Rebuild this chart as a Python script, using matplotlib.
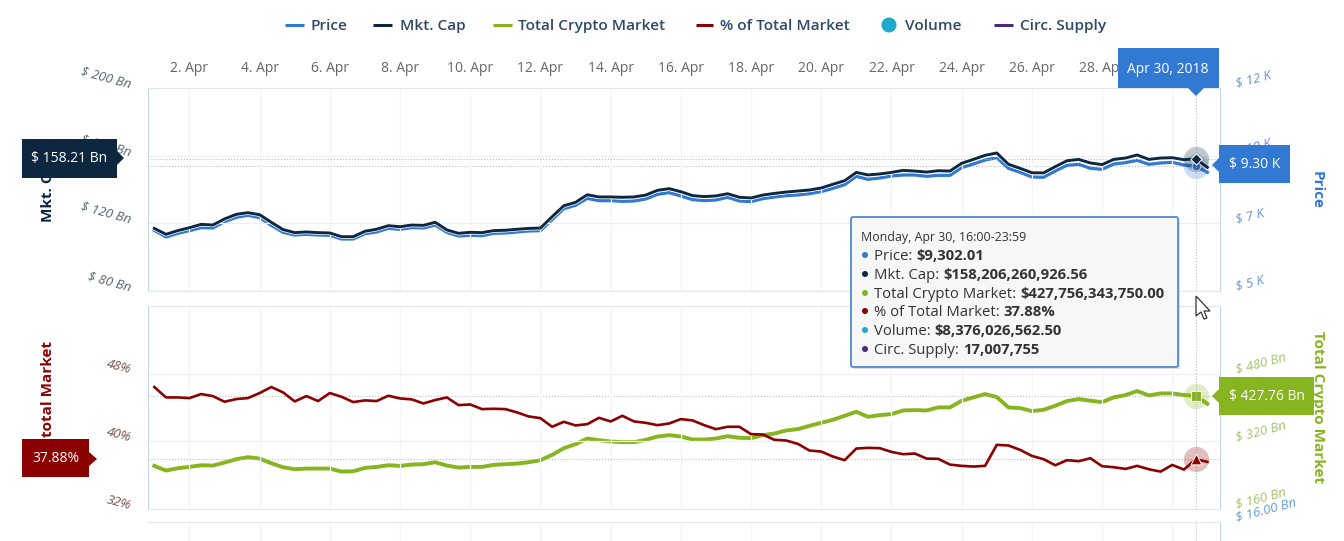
import numpy as np
import matplotlib
matplotlib.use("Agg")
import matplotlib.pyplot as plt
import matplotlib.patheffects as pe
from matplotlib.patches import Polygon, Rectangle, Circle, FancyBboxPatch

plt.rcParams['font.family'] = ['Open Sans', 'DejaVu Sans']

W, H = 1344, 541

# 8 hourly values, 1 Apr 00:00 onward
price = [7092, 6862, 6988, 7080, 7184, 7172, 7391, 7540, 7609, 7529, 7264, 7023, 6931, 6954, 6931, 6919,
         6793, 6793, 6977, 7034, 7161, 7126, 7184, 7172, 7276, 7023, 6897, 6919, 6908, 6988, 7000, 7034,
         7069, 7080, 7460, 7839, 7954, 8195, 8115, 8115, 8092, 8103, 8172, 8333, 8391, 8276, 8149, 8115,
         8138, 8230, 8103, 8080, 8184, 8241, 8287, 8310, 8356, 8425, 8540, 8667, 8954, 8850, 8896, 8965,
         9000, 9000, 8954, 8988, 8988, 9253, 9379, 9517, 9598, 9230, 9092, 8931, 8920, 9138, 9333, 9368,
         9230, 9195, 9379, 9425, 9506, 9368, 9414, 9437, 9345, 9302.01, 9092]
mkt_cap = [117.0, 113.5, 115.7, 117.4, 119.4, 119.0, 122.6, 125.3, 126.3, 125.1, 120.6, 116.3, 114.5, 114.9,
           114.5, 114.3, 112.1, 112.1, 115.3, 116.5, 118.6, 118.0, 119.0, 118.8, 120.6, 116.1, 114.1, 114.7,
           114.5, 115.7, 115.9, 116.5, 117.0, 117.2, 123.9, 130.4, 132.4, 136.9, 135.6, 135.6, 135.4, 135.6,
           136.7, 139.5, 140.5, 138.7, 136.4, 135.8, 136.2, 137.5, 135.4, 135.0, 136.7, 137.7, 138.5, 139.1,
           139.7, 140.9, 143.1, 145.2, 150.1, 148.6, 149.2, 150.1, 151.3, 150.9, 150.3, 151.1, 150.9, 155.5,
           157.8, 160.2, 161.6, 154.9, 152.5, 149.9, 149.8, 153.5, 157.0, 157.8, 155.7, 154.7, 157.8, 158.6,
           160.4, 157.8, 158.6, 158.8, 157.6, 158.21, 153.1]
total_market = [261.9, 250.9, 256.4, 259.5, 263.5, 262.7, 269.8, 277.7, 282.5, 279.3, 268.2, 258.8, 254.0, 255.6,
                255.6, 255.6, 248.5, 249.3, 257.2, 259.5, 263.5, 261.9, 265.1, 265.9, 270.6, 262.7, 258.0, 259.5,
                259.5, 264.3, 265.9, 267.4, 270.6, 275.3, 288.0, 303.8, 313.3, 326.7, 322.7, 319.6, 318.0, 318.0,
                323.5, 331.4, 334.6, 331.4, 324.3, 324.3, 326.7, 332.2, 328.3, 327.5, 334.6, 338.5, 345.7, 348.8,
                356.7, 363.8, 370.9, 380.4, 389.9, 378.0, 382.0, 384.4, 393.0, 393.8, 393.0, 400.2, 400.2, 416.0,
                423.9, 431.8, 424.7, 400.2, 398.6, 391.5, 394.6, 404.1, 415.2, 419.9, 416.0, 412.8, 423.9, 429.4,
                438.9, 428.6, 433.3, 433.3, 429.4, 427.76, 408.9]
pct_market = [46.42, 45.19, 45.19, 45.11, 45.59, 45.35, 44.68, 45.0, 45.11, 45.71, 46.42, 45.79, 44.72, 45.35,
              44.76, 45.71, 45.27, 44.64, 44.84, 44.76, 45.39, 45.07, 44.96, 44.48, 44.88, 45.19, 44.28, 44.36,
              43.81, 43.85, 43.81, 43.42, 42.94, 42.74, 41.72, 42.31, 41.88, 42.03, 42.78, 42.35, 43.02, 42.35,
              42.19, 41.91, 42.11, 42.63, 42.47, 41.91, 41.44, 41.72, 41.72, 40.85, 40.81, 40.18, 40.10, 39.70,
              38.91, 38.79, 38.20, 37.77, 39.15, 39.23, 39.19, 38.75, 38.48, 38.56, 37.96, 37.93, 37.25, 37.10,
              37.02, 37.10, 39.58, 39.51, 38.99, 38.28, 37.89, 37.17, 37.77, 37.65, 38.0, 37.06, 36.94, 36.74,
              37.10, 36.70, 36.42, 37.21, 36.66, 37.88, 37.57]

day_ticks = list(range(2, 31, 2))
day_labels = [f"{d}. Apr" for d in day_ticks]
cap_ticks = [80, 120, 160, 200]
cap_labels = ["$ 80 Bn", "$ 120 Bn", "$ 160 Bn", "$ 200 Bn"]
price_ticks = [5000, 7333, 9667, 12000]
price_labels = ["$ 5 K", "$ 7 K", "$ 10 K", "$ 12 K"]
pct_ticks = [32, 40, 48, 56]
pct_labels = ["32%", "40%", "48%", ""]
total_ticks = [160, 320, 480, 640]
total_labels = ["$ 160 Bn", "$ 320 Bn", "$ 480 Bn", ""]

legend_names = ["Price", "Mkt. Cap", "Total Crypto Market", "% of Total Market", "Volume", "Circ. Supply"]
tooltip_values = ["$9,302.01", "$158,206,260,926.56", "$427,756,343,750.00", "37.88%", "$8,376,026,562.50", "17,007,755"]

BLUE = "#3279d3"
NAVY = "#0d2740"
GREEN = "#86b520"
RED = "#8b0000"
TEAL = "#1fa8cc"
PURPLE = "#4b2a7f"
legend_colors = [BLUE, NAVY, GREEN, RED, TEAL, PURPLE]

days = 1 + np.arange(len(price)) / 3
hover = 89
xlim = (0.82, 31.36)


def px_axes(fig, left, top, right, bottom):
    return fig.add_axes([left / W, 1 - bottom / H, (right - left) / W, (bottom - top) / H])


def style_panel(ax):
    ax.set_xlim(*xlim)
    ax.set_xticks(day_ticks)
    ax.grid(axis="x", color="#f3f5f7", lw=0.9)
    ax.grid(axis="y", color="#eef0f3", lw=0.9)
    ax.set_axisbelow(True)
    ax.tick_params(length=0)
    for side in ["top", "bottom"]:
        ax.spines[side].set_color("#e3e7ec")
    for side in ["left", "right"]:
        ax.spines[side].set_color("#c5d3e0")


def slant_labels(ax, ticks, labels, color, side):
    ax.set_yticks(ticks)
    ax.set_yticklabels(labels, fontsize=9.5, color=color, style="italic")
    for lab in ax.get_yticklabels():
        lab.set_rotation_mode("anchor")
        lab.set_verticalalignment("baseline")
        if side == "left":
            lab.set_rotation(-15)
            lab.set_horizontalalignment("right")
        else:
            lab.set_rotation(15)
            lab.set_horizontalalignment("left")
    ax.tick_params(axis="y", pad=13 if side == "left" else 12)


def halo(ax, x, y, color, marker, size):
    ax.scatter([x], [y], s=330, color=color, alpha=0.25, lw=0, zorder=6, clip_on=False)
    ax.scatter([x], [y], s=size, color=color, marker=marker, edgecolors="white", linewidths=0.7, zorder=7, clip_on=False)


def badge(ax, x0, x1, y0, y1, tip_x, tip_y, color, text):
    ax.add_patch(Rectangle((x0, y0), x1 - x0, y1 - y0, color=color, lw=0, zorder=5))
    edge = x1 if tip_x > x1 else x0
    ax.add_patch(Polygon([(edge, tip_y - 7), (tip_x, tip_y), (edge, tip_y + 7)], color=color, lw=0, zorder=5))
    ax.text((x0 + x1) / 2, (y0 + y1) / 2 + 0.5, text, color="white", fontsize=10, ha="center", va="center", zorder=6)


fig = plt.figure(figsize=(W / 100, H / 100), dpi=100)

# top panel
ax_cap = px_axes(fig, 148, 88, 1220, 291)
ax_cap.set_ylim(80, 200)
style_panel(ax_cap)
ax_cap.tick_params(axis="x", top=False, bottom=False, labeltop=True, labelbottom=False, pad=9)
ax_cap.set_xticklabels(day_labels, fontsize=10, color="#666666")
slant_labels(ax_cap, cap_ticks, cap_labels, "#5a6472", "left")

ax_price = ax_cap.twinx()
ax_price.set_ylim(5000, 12000)
ax_price.spines[:].set_visible(False)
ax_price.tick_params(length=0)
slant_labels(ax_price, price_ticks, price_labels, "#6c93cc", "right")

ax_price.plot(days, price, color=BLUE, lw=2.3, solid_joinstyle="round", zorder=3)
ax_cap.set_zorder(ax_price.get_zorder() + 1)
ax_cap.patch.set_visible(False)
ax_price.patch.set_visible(True)
ax_cap.plot(days, mkt_cap, color=NAVY, lw=2.1, solid_joinstyle="round", zorder=4,
            path_effects=[pe.withStroke(linewidth=3.1, foreground="white")])
ax_cap.axhline(mkt_cap[hover], color="#bbbbbb", lw=0.8, ls=":", zorder=2)
ax_price.axhline(price[hover], color="#bbbbbb", lw=0.8, ls=":", zorder=2)
ax_cap.axvline(days[hover], color="#bbbbbb", lw=0.8, ls=":", zorder=2)
halo(ax_price, days[hover], price[hover], BLUE, "o", 38)
halo(ax_cap, days[hover], mkt_cap[hover], NAVY, "D", 32)

# bottom panel
ax_pct = px_axes(fig, 148, 306, 1220, 509)
ax_pct.set_ylim(32, 56)
style_panel(ax_pct)
ax_pct.tick_params(labelbottom=False)
slant_labels(ax_pct, pct_ticks, pct_labels, "#7d4f4f", "left")

ax_total = ax_pct.twinx()
ax_total.set_ylim(160, 640)
ax_total.spines[:].set_visible(False)
ax_total.tick_params(length=0)
slant_labels(ax_total, total_ticks, total_labels, "#a3c266", "right")

ax_total.plot(days, total_market, color=GREEN, lw=2.8, solid_joinstyle="round", zorder=3)
ax_pct.set_zorder(ax_total.get_zorder() + 1)
ax_pct.patch.set_visible(False)
ax_pct.plot(days, pct_market, color=RED, lw=1.9, solid_joinstyle="round", zorder=4)
ax_pct.axhline(pct_market[hover], color="#bbbbbb", lw=0.8, ls=":", zorder=2)
ax_total.axhline(total_market[hover], color="#bbbbbb", lw=0.8, ls=":", zorder=2)
ax_pct.axvline(days[hover], color="#bbbbbb", lw=0.8, ls=":", zorder=2)
halo(ax_total, days[hover], total_market[hover], GREEN, "s", 60)
halo(ax_pct, days[hover], pct_market[hover], RED, "^", 60)

# volume panel, only its top edge shows
ax_vol = px_axes(fig, 148, 522, 1220, 541)
ax_vol.set_ylim(12, 16)
style_panel(ax_vol)
ax_vol.spines["bottom"].set_visible(False)
ax_vol.spines["left"].set_visible(False)
ax_vol.set_yticks([16])
ax_vol.set_yticklabels(["$ 16.00 Bn"], fontsize=9.5, color="#5f9fd0", style="italic")
ax_vol.tick_params(labelbottom=False, labelleft=False, left=False, labelright=True, length=0, pad=12)
for lab in ax_vol.get_yticklabels():
    lab.set_rotation(15)
    lab.set_rotation_mode("anchor")
    lab.set_verticalalignment("baseline")
    lab.set_horizontalalignment("left")
ax_vol.axvline(days[hover], color="#bbbbbb", lw=0.8, ls=":")

# pixel overlay for legend, titles, badges, tooltip
ov = fig.add_axes([0, 0, 1, 1])
ov.set_xlim(0, W)
ov.set_ylim(H, 0)
ov.axis("off")
ov.patch.set_alpha(0)
ov.set_zorder(10)

legend_line_x = [(285, 304), (373, 392), (493, 512), (696, 713), None, (994, 1013)]
legend_text_x = [311, 400, 518, 720, 905, 1020]
for name, color, lx, tx in zip(legend_names, legend_colors, legend_line_x, legend_text_x):
    if lx is None:
        ov.add_patch(Circle((889, 25), 7.5, color=color, lw=0))
    else:
        ov.plot(lx, [25, 25], color=color, lw=2.2, solid_capstyle="butt")
    ov.text(tx, 26, name, fontsize=11.1, weight="semibold", color="#2e4a66", va="center", ha="left")

ov.text(48, 188, "Mkt. Cap", rotation=90, fontsize=11, weight="bold", color=NAVY, ha="center", va="center")
ov.text(48, 408, "% of total Market", rotation=90, fontsize=11, weight="bold", color=RED, ha="center", va="center")
ov.text(1317, 190, "Price", rotation=270, fontsize=11, weight="bold", color=BLUE, ha="center", va="center")
ov.text(1318, 407, "Total Crypto Market", rotation=270, fontsize=11, weight="bold", color=GREEN, ha="center", va="center")

badge(ov, 22, 117, 139, 177.5, 124, 158, NAVY, "$ 158.21 Bn")
badge(ov, 22, 89, 439, 477, 97, 459, RED, "37.88%")
badge(ov, 1219, 1290, 145, 183, 1212, 165, BLUE, "$ 9.30 K")
badge(ov, 1219, 1314, 377, 415, 1212, 396, GREEN, "$ 427.76 Bn")

# date flag
ov.add_patch(Rectangle((1118, 48), 101, 40, color=BLUE, lw=0, zorder=5))
ov.add_patch(Polygon([(1188, 88), (1196, 96), (1204, 88)], color=BLUE, lw=0, zorder=5))
ov.text(1168, 69.5, "Apr 30, 2018", color="white", fontsize=10, ha="center", va="center", zorder=6)

# tooltip
ov.add_patch(Rectangle((853, 219), 327, 150, color="#000000", alpha=0.12, lw=0, zorder=7))
ov.add_patch(FancyBboxPatch((851, 217), 327, 150, boxstyle="round,pad=0,rounding_size=2",
                            facecolor="#f7f7f7", edgecolor="#5b93d8", lw=1.4, zorder=8))
ov.text(861, 237, "Monday, Apr 30, 16:00-23:59", fontsize=8.9, color="#333333", va="center", zorder=9)
row_y = [260, 279, 298, 316, 335, 354]
for name, color, value, y in zip(legend_names, legend_colors, tooltip_values, row_y):
    ov.add_patch(Circle((865, y - 5), 3, color=color, lw=0, zorder=9))
    label = ov.text(873.5, y, name + ": ", fontsize=10.7, color="#333333", va="baseline", zorder=9)
    ov.annotate(value, xy=(1, y), xycoords=(label, "data"), xytext=(0.5, 0), textcoords="offset points",
                fontsize=10.7, weight="bold", color="#333333", va="baseline", zorder=9)

# mouse pointer
ov.add_patch(Polygon([(1196, 296), (1196, 316), (1201, 312), (1204, 319), (1207, 318), (1204, 311), (1210, 311)],
                     facecolor="white", edgecolor="#333333", lw=0.9, zorder=10))

fig.savefig("out.png", dpi=100)
